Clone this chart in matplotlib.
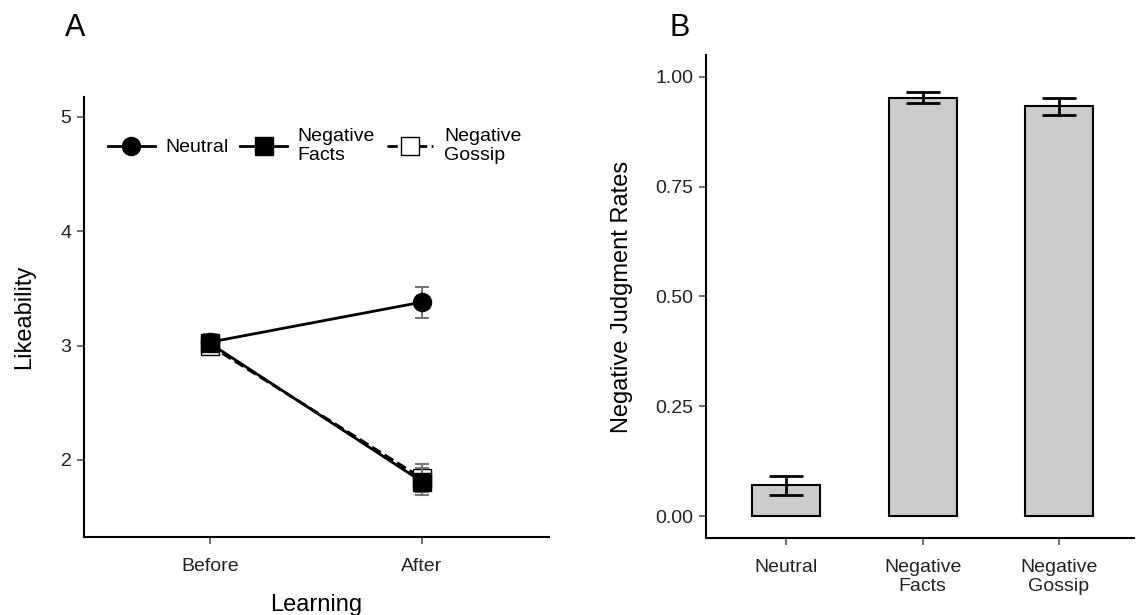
import matplotlib
matplotlib.use('Agg')
import matplotlib.pyplot as plt
from matplotlib.lines import Line2D
import numpy as np

plt.rcParams['font.family'] = ['Liberation Sans', 'DejaVu Sans']

# panel A: likeability before / after learning
phases = ["Before", "After"]
neutral_mean = [3.03, 3.38]
neutral_err = [0.07, 0.135]
facts_mean = [3.02, 1.81]
facts_err = [0.07, 0.12]
gossip_mean = [3.00, 1.84]
gossip_err = [0.07, 0.12]

# panel B: negative judgment rates
conditions = ["Neutral", "Negative\nFacts", "Negative\nGossip"]
rates = [0.070, 0.953, 0.933]
rate_err = [0.022, 0.012, 0.020]

fig = plt.figure(figsize=(11.36, 6.15), dpi=100)
axA = fig.add_axes([0.0739, 0.1268, 0.4094, 0.7155])
axB = fig.add_axes([0.6215, 0.1252, 0.3765, 0.7854])

x = np.arange(1, len(phases) + 1)
errc = "#777777"
axA.errorbar(x, neutral_mean, yerr=neutral_err, color="black", ls="-", lw=2,
             marker="o", ms=13, mfc="black", mec="black", ecolor=errc,
             elinewidth=1.5, capsize=5, capthick=1.5, zorder=3)
axA.errorbar(x, gossip_mean, yerr=gossip_err, color="black", ls="--", lw=2,
             marker="s", ms=13, mfc="white", mec="black", ecolor=errc,
             elinewidth=1.5, capsize=5, capthick=1.5, zorder=4)
axA.errorbar(x, facts_mean, yerr=facts_err, color="black", ls="-", lw=2,
             marker="s", ms=13, mfc="black", mec="black", ecolor=errc,
             elinewidth=1.5, capsize=5, capthick=1.5, zorder=5)

axA.set_xlim(0.406, 2.6)
axA.set_ylim(1.325, 5.175)
axA.set_xticks(x)
axA.set_xticklabels(phases)
axA.set_yticks([2, 3, 4, 5])
axA.set_xlabel("Learning", fontsize=17, labelpad=14)
axA.set_ylabel("Likeability", fontsize=17, labelpad=18)

handles = [
    Line2D([], [], color="black", lw=2, marker="o", ms=13, mfc="black"),
    Line2D([], [], color="black", lw=2, marker="s", ms=13, mfc="black"),
    Line2D([], [], color="black", lw=2, ls="--", marker="s", ms=13, mfc="white"),
]
labels = ["Neutral", "Negative\nFacts", "Negative\nGossip"]
axA.legend(handles, labels, ncol=3, frameon=False, loc="center left",
           bbox_to_anchor=(0.035, 0.889), borderaxespad=0, fontsize=14,
           handlelength=2.4, columnspacing=0.6, handletextpad=0.55,
           labelspacing=0.2)

xb = np.arange(1, len(conditions) + 1)
axB.bar(xb, rates, width=0.5, color="#cccccc", edgecolor="black", lw=1.5, zorder=2)
axB.errorbar(xb, rates, yerr=rate_err, fmt="none", ecolor="black", elinewidth=2,
             capsize=12, capthick=2, zorder=3)
axB.set_xlim(0.41, 3.55)
axB.set_ylim(-0.05, 1.05)
axB.set_xticks(xb)
axB.set_xticklabels(conditions)
axB.set_yticks([0, 0.25, 0.5, 0.75, 1.0])
axB.set_yticklabels(["0.00", "0.25", "0.50", "0.75", "1.00"])
axB.set_ylabel("Negative Judgment Rates", fontsize=17, labelpad=16)

for ax in (axA, axB):
    ax.spines["top"].set_visible(False)
    ax.spines["right"].set_visible(False)
    ax.spines["left"].set_linewidth(1.5)
    ax.spines["bottom"].set_linewidth(1.5)
    ax.tick_params(axis="both", labelsize=14, color="#555555", width=1.2, length=5,
                   labelcolor="#222222", pad=4)
    ax.tick_params(axis="x", pad=10)

fig.text(0.066, 0.955, "A", fontsize=22, ha="center", va="center")
fig.text(0.598, 0.955, "B", fontsize=22, ha="center", va="center")

fig.savefig("out.png", dpi=100)
